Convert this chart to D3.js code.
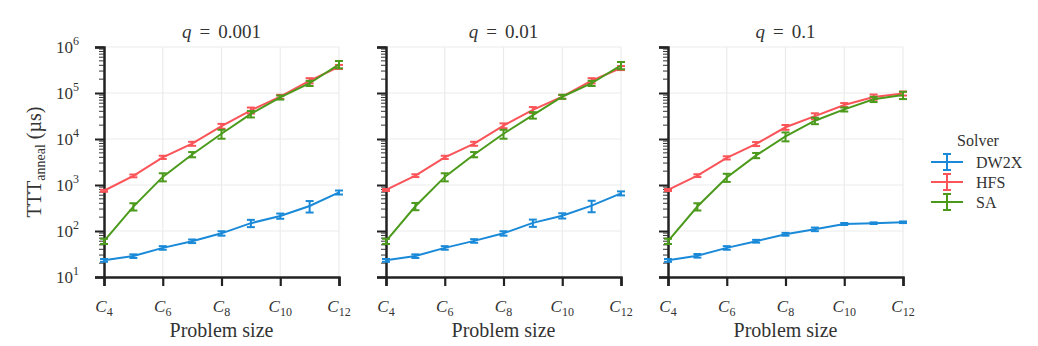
<!DOCTYPE html>
<html>
<head>
<meta charset="utf-8">
<script src="https://cdn.jsdelivr.net/npm/d3@7"></script>
<style>
  body { margin: 0; background: #fff; }
  text { font-family: "Liberation Serif", "DejaVu Serif", serif; fill: #333; }
</style>
</head>
<body>
<div id="chart"></div>
<script>
// Set up chart
var svgWidth = 1038;
var svgHeight = 346;

// data
var sizes = [4, 5, 6, 7, 8, 9, 10, 11, 12];
var xTicks = [4, 6, 8, 10, 12];
var yTicks = [1, 2, 3, 4, 5, 6];   // powers of ten
var solvers = ["DW2X", "HFS", "SA"];
var colors = ["#1a8ad8", "#fa5459", "#4c9a1c"];
var panelTitles = ["0.001", "0.01", "0.1"];

// q = 0.001
var dw2x_001 = [23, 28.5, 43, 60, 89, 148, 212, 350, 690];
var hfs_001 = [750, 1580, 4000, 7900, 19000, 42000, 83000, 186000, 370000];
var sa_001 = [60, 340, 1500, 4600, 13000, 35000, 80000, 163000, 420000];
// q = 0.01
var dw2x_01 = [23, 28.5, 43, 61, 89, 150, 215, 355, 660];
var hfs_01 = [780, 1600, 4000, 7900, 19500, 43000, 83000, 186000, 350000];
var sa_01 = [60, 345, 1500, 4600, 13000, 33000, 83000, 163000, 400000];
// q = 0.1
var dw2x_1 = [23, 29, 43, 60, 85, 109, 142, 148, 155];
var hfs_1 = [780, 1600, 3900, 7800, 18000, 31500, 55000, 82000, 98000];
var sa_1 = [60, 340, 1460, 4400, 11400, 25000, 44000, 73000, 90000];

// relative error (fraction of value) for the error bars
var errDW2X = [0.07, 0.09, 0.09, 0.09, 0.11, 0.18, 0.13, 0.28, 0.1];
var errHFS = [0.05, 0.07, 0.08, 0.1, 0.12, 0.15, 0.1, 0.13, 0.1];
var errSA = [0.13, 0.18, 0.2, 0.13, 0.22, 0.16, 0.1, 0.13, 0.18];
var errDW2X_1 = [0.07, 0.09, 0.09, 0.07, 0.07, 0.09, 0.05, 0.04, 0.04];

var panels = [
  [dw2x_001, hfs_001, sa_001],
  [dw2x_01, hfs_01, sa_01],
  [dw2x_1, hfs_1, sa_1]
];
var errs = [
  [errDW2X, errHFS, errSA],
  [errDW2X, errHFS, errSA],
  [errDW2X_1, errHFS, errSA]
];

var panelLeft = [104, 386, 668];
var plotTop = 47, plotBottom = 277;
var width = 235;

var svg = d3.select("#chart")
  .append("svg")
  .attr("width", svgWidth)
  .attr("height", svgHeight);

var yScale = d3.scaleLog()
  .domain([10, 1e6])
  .range([plotBottom, plotTop]);

// minor tick values
var minor = [];
for (var e = 1; e < 6; e++) {
  for (var m = 2; m < 10; m++) minor.push(m * Math.pow(10, e));
}

panels.forEach(function(series, pi) {
  var g = svg.append("g")
    .attr("transform", `translate(${panelLeft[pi]}, 0)`);

  var xScale = d3.scaleLinear()
    .domain([4, 12])
    .range([0, width]);

  // grid
  g.append("g").selectAll("line.h")
    .data(yTicks.slice(1))
    .enter().append("line")
    .attr("x1", 0).attr("x2", width)
    .attr("y1", d => yScale(Math.pow(10, d)))
    .attr("y2", d => yScale(Math.pow(10, d)))
    .attr("stroke", "#ebebeb").attr("stroke-width", 1.2);
  g.append("g").selectAll("line.v")
    .data(xTicks.slice(1))
    .enter().append("line")
    .attr("x1", d => xScale(d)).attr("x2", d => xScale(d))
    .attr("y1", plotTop).attr("y2", plotBottom)
    .attr("stroke", "#ebebeb").attr("stroke-width", 1.2);

  // x axis
  var xAxis = g.append("g")
    .attr("transform", `translate(0, ${plotBottom})`)
    .call(d3.axisBottom(xScale).tickValues(xTicks).tickSize(9).tickFormat(""));
  xAxis.select(".domain").attr("stroke", "#222").attr("stroke-width", 2.5);
  xAxis.selectAll(".tick line").attr("stroke", "#222").attr("stroke-width", 2.2);

  xTicks.forEach(function(t) {
    var lab = g.append("text")
      .attr("x", xScale(t))
      .attr("y", 312)
      .attr("text-anchor", "middle")
      .style("font-size", "17px");
    lab.append("tspan").style("font-style", "italic").text("C");
    lab.append("tspan").attr("dy", 4).style("font-size", "12px").text(t);
  });

  // y axis
  var yAxis = g.append("g")
    .call(d3.axisLeft(yScale).tickValues(yTicks.map(d => Math.pow(10, d))).tickSize(9).tickFormat(""));
  yAxis.select(".domain").attr("stroke", "#222").attr("stroke-width", 2.5);
  yAxis.selectAll(".tick line").attr("stroke", "#222").attr("stroke-width", 2);

  g.append("g").selectAll("line.minor")
    .data(minor)
    .enter().append("line")
    .attr("x1", -5).attr("x2", 0)
    .attr("y1", d => yScale(d)).attr("y2", d => yScale(d))
    .attr("stroke", "#333").attr("stroke-width", 1);

  if (pi === 0) {
    yTicks.forEach(function(t) {
      var lab = g.append("text")
        .attr("x", -25)
        .attr("y", yScale(Math.pow(10, t)) + 6)
        .attr("text-anchor", "end")
        .style("font-size", "17px");
      lab.append("tspan").text("10");
      lab.append("tspan").attr("dy", -8).style("font-size", "12px").text(t);
    });
  }

  // title
  var title = g.append("text")
    .attr("x", width / 2)
    .attr("y", 38)
    .attr("text-anchor", "middle")
    .style("font-size", "19px");
  title.append("tspan").style("font-style", "italic").text("q");
  title.append("tspan").attr("dx", 8).text("=");
  title.append("tspan").attr("dx", 8).text(panelTitles[pi]);

  // x label
  g.append("text")
    .attr("x", width / 2)
    .attr("y", 337)
    .attr("text-anchor", "middle")
    .style("font-size", "20px")
    .text("Problem size");

  // lines
  var line = d3.line()
    .x((d, i) => xScale(sizes[i]))
    .y(d => yScale(d));

  series.forEach(function(vals, si) {
    g.append("path")
      .datum(vals)
      .attr("fill", "none")
      .attr("stroke", colors[si])
      .attr("stroke-width", 2)
      .attr("d", line);

    var eb = g.append("g").selectAll("g")
      .data(vals)
      .enter().append("g")
      .attr("stroke", colors[si])
      .attr("stroke-width", 2);
    var er = errs[pi][si];
    eb.append("line")
      .attr("x1", (d, i) => xScale(sizes[i])).attr("x2", (d, i) => xScale(sizes[i]))
      .attr("y1", (d, i) => yScale(d * (1 - er[i]))).attr("y2", (d, i) => yScale(d * (1 + er[i])));
    eb.append("line")
      .attr("x1", (d, i) => xScale(sizes[i]) - 4).attr("x2", (d, i) => xScale(sizes[i]) + 4)
      .attr("y1", (d, i) => yScale(d * (1 - er[i]))).attr("y2", (d, i) => yScale(d * (1 - er[i])));
    eb.append("line")
      .attr("x1", (d, i) => xScale(sizes[i]) - 4).attr("x2", (d, i) => xScale(sizes[i]) + 4)
      .attr("y1", (d, i) => yScale(d * (1 + er[i]))).attr("y2", (d, i) => yScale(d * (1 + er[i])));
  });
});

// y axis label
var yLab = svg.append("text")
  .attr("transform", "translate(41, 162) rotate(-90)")
  .attr("text-anchor", "middle")
  .style("font-size", "20px");
yLab.append("tspan").text("TTT");
yLab.append("tspan").attr("dy", 4).style("font-size", "14px").text("anneal");
yLab.append("tspan").attr("dy", -4).text(" (\u00b5s)");

// legend
var legend = svg.append("g");
legend.append("text")
  .attr("x", 978).attr("y", 146)
  .attr("text-anchor", "middle")
  .style("font-size", "16px")
  .text("Solver");
solvers.forEach(function(s, i) {
  var y = 162 + i * 20;
  var lg = legend.append("g").attr("stroke", colors[i]).attr("stroke-width", 2);
  lg.append("line").attr("x1", 931).attr("x2", 963).attr("y1", y).attr("y2", y);
  lg.append("line").attr("x1", 947).attr("x2", 947).attr("y1", y - 8).attr("y2", y + 8);
  lg.append("line").attr("x1", 943).attr("x2", 951).attr("y1", y - 8).attr("y2", y - 8);
  lg.append("line").attr("x1", 943).attr("x2", 951).attr("y1", y + 8).attr("y2", y + 8);
  legend.append("text")
    .attr("x", 976).attr("y", y + 6)
    .style("font-size", "16px")
    .text(s);
});
</script>
</body>
</html>
